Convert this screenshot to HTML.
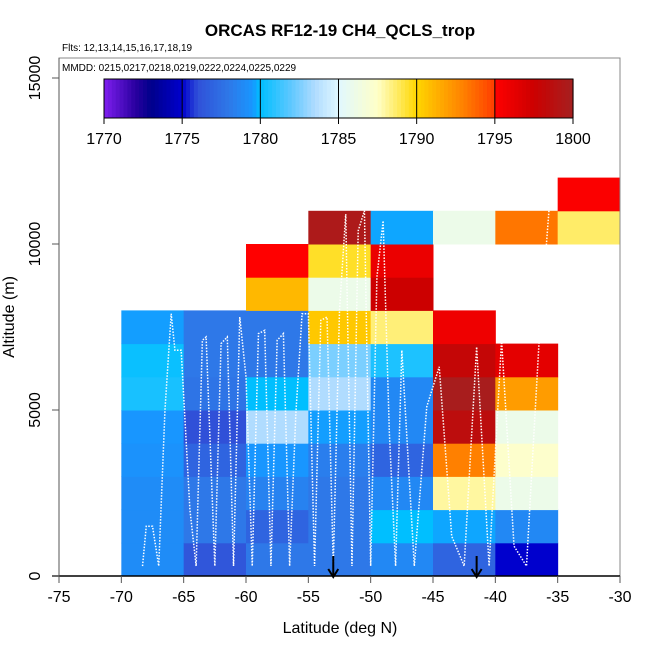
<!DOCTYPE html>
<html><head><meta charset="utf-8"><style>
body{margin:0;background:#fff;}
svg{display:block;font-family:"Liberation Sans",sans-serif;}
</style></head><body>
<svg id="chart" width="650" height="650" viewBox="0 0 650 650" xmlns="http://www.w3.org/2000/svg">
<g id="cells"></g>
<g id="tracks"></g>
<g id="axes"></g>
<g id="legend"></g>
<text x="340" y="36" text-anchor="middle" font-size="17" font-weight="bold">ORCAS RF12-19 CH4_QCLS_trop</text>
<text x="62" y="51" font-size="10">Flts: 12,13,14,15,16,17,18,19</text>
<text x="340" y="633" text-anchor="middle" font-size="16">Latitude (deg N)</text>
<text x="14" y="317" text-anchor="middle" font-size="16" transform="rotate(-90 14 317)">Altitude (m)</text>
</svg>
<script>
const latBins=[-70,-65,-60,-55,-50,-45,-40,-35];
// values per column, rows from 0-1 km upward (null = no data)
const colM70=[1779,1779,1779,1779.3,1779.5,1780.5,1780.2,1779.6];
const colM65=[1776.3,1778,1778,1777,1776,1777.8,1778,1778];
const colM60=[1778,1777,1778.5,1779.5,1783.5,1780,1778,1778,1791,1795];
const colM55=[1778,1778,1778,1778.3,1779.6,1783.5,1782.5,1790.5,1786,1789.5,1799.5];
const colM50=[1778.8,1780,1778.8,1777,1778.8,1778.8,1780.6,1788.5,1797.5,1796,1779.7];
const colM45=[1777,1779.7,1788,1793,1798.5,1799.8,1798,1795.8,null,null,1786];
const colM40=[1775,1778.8,1786,1787.3,1786,1792,1796.3,null,null,null,1793.3];
const colM35=[null,null,null,null,null,null,null,null,null,null,1788.7,1795.2];
const columns=[colM70,colM65,colM60,colM55,colM50,colM45,colM40,colM35];
const xTicks=[-75,-70,-65,-60,-55,-50,-45,-40,-35,-30];
const yTicks=[0,5000,10000,15000];
const cbTicks=[1770,1775,1780,1785,1790,1795,1800];
const arrowLats=[-53,-41.5];
// flight track (lat, alt m)
const trackLat=[-68.3,-68,-67.5,-67,-66.5,-66,-65.7,-65.2,-64.5,-64,-63.5,-63.2,-62.5,-62,-61.5,-61,-60.5,-60,-59.5,-59,-58.5,-58,-57.5,-57,-56.5,-56,-55.5,-55,-54.5,-54,-53.5,-53,-52.5,-52,-51.5,-51,-50.5,-50,-49.5,-49,-48.5,-48,-47.5,-46.5,-45.5,-44.5,-43.5,-42.5,-41.5,-40.5,-39.5,-38.5,-37.5,-36.5,-35.5];
const trackAlt=[300,1500,1500,300,5000,7900,6800,6800,2000,300,7100,7200,300,7000,7200,300,7800,6000,300,7300,7400,300,7100,7300,300,4900,7900,7900,300,7700,7800,300,8000,10900,300,10400,11000,300,9000,10700,4300,300,6800,300,5100,6300,1200,300,6900,300,7100,900,300,7000,12000];

const X=v=>59+(v+75)*(561/45);
const Y=v=>576-v*(498/15000);
const NS='http://www.w3.org/2000/svg';
function mk(t,a,p){const e=document.createElementNS(NS,t);for(const k in a)e.setAttribute(k,a[k]);p.appendChild(e);return e;}
const stops=[[1770,[127,31,239]],[1772,[42,0,160]],[1773,[0,0,139]],[1775,[0,0,205]],[1776,[48,80,216]],[1778,[46,120,232]],[1779.5,[24,150,255]],[1780,[0,191,255]],[1782,[96,200,255]],[1783.5,[176,220,255]],[1785,[224,248,255]],[1787.5,[255,255,200]],[1790,[255,215,0]],[1791,[255,184,0]],[1793,[255,128,0]],[1794.9,[255,64,0]],[1795,[255,0,0]],[1797.5,[204,0,0]],[1800,[165,32,32]]];
function col(v){v=Math.max(1770,Math.min(1800,v));for(let i=1;i<stops.length;i++){if(v<=stops[i][0]){const a=stops[i-1],b=stops[i];const t=(v-a[0])/(b[0]-a[0]||1);const c=a[1].map((x,j)=>Math.round(x+(b[1][j]-x)*t));return `rgb(${c})`;}}return 'rgb(165,32,32)';}

const cells=document.getElementById('cells');
columns.forEach((c,i)=>{c.forEach((v,r)=>{if(v==null)return;
const x0=X(latBins[i]),x1=X(latBins[i]+5),y0=Y((r+1)*1000),y1=Y(r*1000);
const e=mk('rect',{x:x0,y:y0,width:x1-x0+0.5,height:y1-y0+0.5,fill:col(v)},cells);

});});

const tr=document.getElementById('tracks');
const pl=mk('polyline',{points:trackLat.map((l,i)=>X(l)+','+Y(trackAlt[i])).join(' '),fill:'none',stroke:'#fff','stroke-width':1.5,'stroke-dasharray':'1.5 1.5'},tr);


arrowLats.forEach(l=>{const g=mk('g',{},tr);


const x=X(l);mk('line',{x1:x,y1:556,x2:x,y2:576,stroke:'#000','stroke-width':2},g);
mk('polyline',{points:`${x-5},569 ${x},577 ${x+5},569`,fill:'none',stroke:'#000','stroke-width':2},g);});

const ax=document.getElementById('axes');
mk('rect',{x:59,y:58,width:561,height:518,fill:'none',stroke:'#888','stroke-width':1},ax);
mk('line',{x1:52,y1:576,x2:620,y2:576,stroke:'#000','stroke-width':1.5},ax);
mk('line',{x1:59,y1:78,x2:59,y2:576,stroke:'#555','stroke-width':1},ax);
xTicks.forEach(t=>{const x=X(t);mk('line',{x1:x,y1:576,x2:x,y2:583,stroke:'#555'},ax);
const e=mk('text',{x:x,y:602,'text-anchor':'middle','font-size':16},ax);e.textContent=t;

});
yTicks.forEach(t=>{const y=Y(t);mk('line',{x1:52,y1:y,x2:59,y2:y,stroke:'#555'},ax);
const e=mk('text',{x:40,y:y,'text-anchor':'middle','font-size':16,transform:`rotate(-90 40 ${y})`},ax);e.textContent=t;

});

const lg=document.getElementById('legend');
mk('rect',{x:59,y:58,width:561,height:90,fill:'#fff'},lg);
mk('line',{x1:59,y1:58,x2:620,y2:58,stroke:'#888'},lg);
mk('line',{x1:59,y1:58,x2:59,y2:148,stroke:'#555'},lg);
mk('line',{x1:620,y1:58,x2:620,y2:148,stroke:'#888'},lg);
const mm=mk('text',{x:62,y:71,'font-size':10},lg);mm.textContent='MMDD: 0215,0217,0218,0219,0222,0224,0225,0229';


const cx=v=>104+(v-1770)*(469/30);
for(let v=1770;v<1800;v+=0.25){mk('rect',{x:cx(v),y:79,width:469/120+0.6,height:39,fill:col(v+0.125)},lg);}
mk('rect',{x:104,y:79,width:469,height:39,fill:'none',stroke:'#000'},lg);
cbTicks.forEach(t=>{const x=cx(t);mk('line',{x1:x,y1:79,x2:x,y2:124,stroke:'#000'},lg);
const e=mk('text',{x:x,y:144,'text-anchor':'middle','font-size':16},lg);e.textContent=t;

});
</script>
</body></html>
